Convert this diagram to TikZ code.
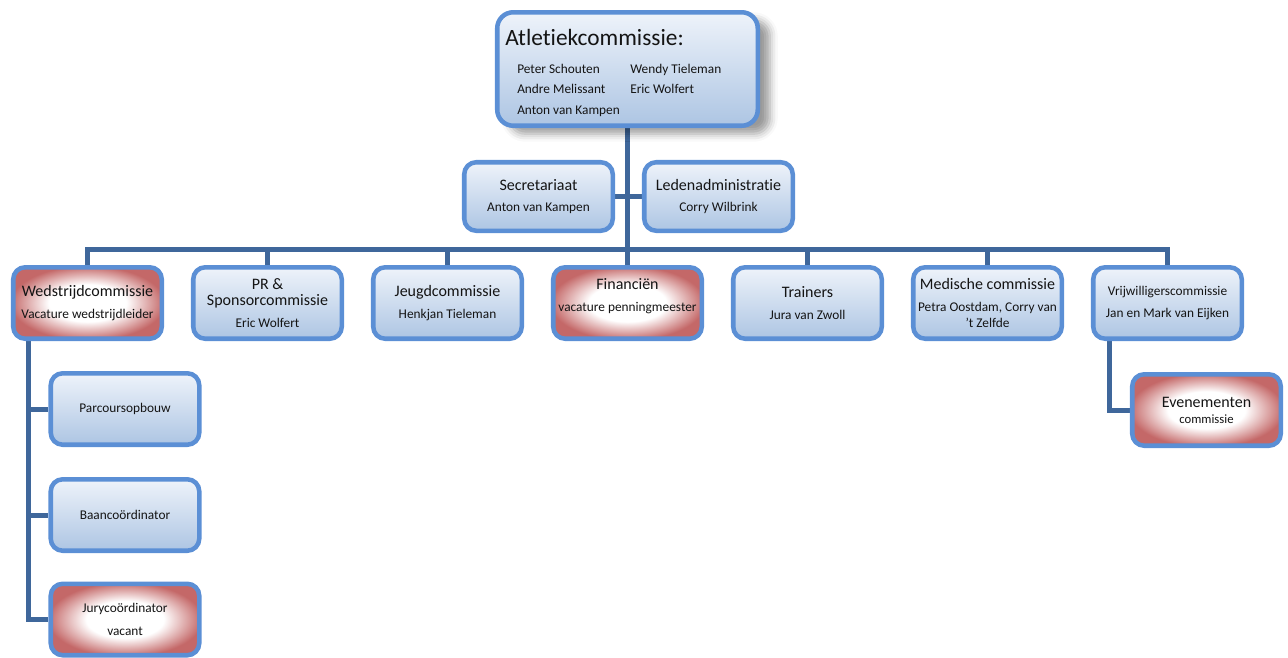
\documentclass[tikz,border=0pt]{standalone}
\usepackage{fontspec}
\setmainfont{Carlito}[Ligatures=NoCommon]
\usetikzlibrary{shadows.blur,backgrounds}
\definecolor{bord}{HTML}{5B8FD5}
\definecolor{conn}{HTML}{3F679B}
\definecolor{btop}{HTML}{EEF3FA}
\definecolor{bbot}{HTML}{ADC5E3}
\definecolor{redc}{HTML}{C46868}
\definecolor{txt}{HTML}{141414}
\pgfdeclareradialshading{redglow}{\pgfpoint{0bp}{0bp}}{color(0bp)=(white); color(13bp)=(white); color(26bp)=(redc); color(50bp)=(redc)}
\newcommand{\hdf}{\fontsize{12}{13.5}\selectfont}
\newcommand{\sbf}{\fontsize{10}{12}\selectfont}
\begin{document}
\begin{tikzpicture}[x=0.75pt,y=-0.75pt,
  every node/.style={text=txt},
  basebox/.style={draw=bord, line width=3.4pt, rounded corners=9pt, inner sep=0pt, align=center,
    minimum width=111.4pt, minimum height=53.6pt},
  box/.style={basebox, top color=btop, bottom color=bbot},
  redbox/.style={basebox, shading=redglow},
  link/.style={draw=conn, line width=3.75pt},
  member/.style={anchor=base west, inner sep=0pt, font=\sbf}]
\useasboundingbox (0,0) rectangle (1288,657);

% top
\node[box, rounded corners=12pt, minimum width=195.4pt, minimum height=85.1pt,
  blur shadow={shadow xshift=9pt, shadow yshift=-6pt, shadow blur radius=6pt, shadow opacity=40}]
  (top) at (627.5,69) {};
\node[anchor=base west, inner sep=0pt, font=\fontsize{17.5}{20}\selectfont] (title) at (505,45) {Atletiekcommissie:};
\node[member] (n1) at (517,73) {Peter Schouten};
\node[member] (n2) at (517,93) {Andre Melissant};
\node[member] (n3) at (517,114) {Anton van Kampen};
\node[member] (n4) at (630,73) {Wendy Tieleman};
\node[member] (n5) at (630,93) {Eric Wolfert};

% second level
\node[box, minimum height=51.4pt] (sec) at (538.5,196.5) {\hdf Secretariaat\\[4pt]\sbf Anton van Kampen};
\node[box, minimum height=51.4pt] (led) at (718.5,196.5) {\hdf Ledenadministratie\\[4pt]\sbf Corry Wilbrink};

% row
\node[redbox] (wed) at (87.5,303) {\hdf Wedstrijdcommissie\\[5pt]\sbf Vacature wedstrijdleider};
\node[box] (pr) at (267.5,303) {\hdf PR \&\\\hdf Sponsorcommissie\\[4pt]\sbf Eric Wolfert};
\node[box] (jeugd) at (447.5,303) {\hdf Jeugdcommissie\\[4pt]\sbf Henkjan Tieleman};
\node[redbox] (fin) at (627.5,303) {};
\node[align=center, inner sep=0pt] (finlbl) at (627.5,296) {\hdf Financiën\\[5pt]\sbf vacature penningmeester};
\node[box] (train) at (807.5,303) {\hdf Trainers\\[4pt]\sbf Jura van Zwoll};
\node[box] (med) at (987.5,303) {\hdf Medische commissie\\[4pt]\fontsize{10}{10.5}\selectfont Petra Oostdam, Corry van\\\fontsize{10}{10.5}\selectfont 't Zelfde};
\node[box] (vrij) at (1167.5,303) {\sbf Vrijwilligerscommissie\\[4pt]\sbf Jan en Mark van Eijken};

% left column
\node[box] (parc) at (125,409) {\sbf Parcoursopbouw};
\node[box] (baan) at (125,515) {\sbf Baancoördinator};
\node[redbox] (jury) at (125,619.5) {\sbf Jurycoördinator\\[5pt]\sbf vacant};

% evenementen
\node[redbox] (even) at (1206.5,410) {\hdf Evenementen\\\fontsize{9.5}{10}\selectfont commissie};

\coordinate (tj) at (627,249);
\coordinate (lv) at (28,0);
\coordinate (ev) at (1109,0);

\begin{pgfonlayer}{background}
\draw[link] (top.south -| tj) -- (tj);
\draw[link] (sec.east) -- (led.west);
\draw[link] (wed.north) |- (vrij.north |- tj) -- (vrij.north);
\foreach \n in {pr,jeugd,fin,train,med} \draw[link] (\n.north) -- (\n.north |- tj);
\draw[link] (wed.south -| lv) |- (jury.west);
\draw[link] (parc.west -| lv) -- (parc.west);
\draw[link] (baan.west -| lv) -- (baan.west);
\draw[link] (vrij.south -| ev) |- (even.west);
\end{pgfonlayer}
\end{tikzpicture}
\end{document}
